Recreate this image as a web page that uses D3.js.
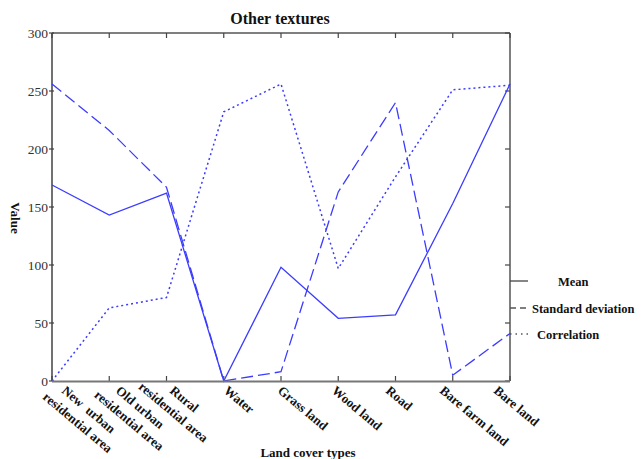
<!DOCTYPE html>
<html><head><meta charset="utf-8">
<script src="https://cdn.jsdelivr.net/npm/d3@7"></script>
<style>
html,body{margin:0;padding:0;background:#fff;}
svg{display:block;}
text{font-family:"Liberation Serif","Times New Roman",serif;}
</style>
</head><body>
<script>
// ---- data ----
const categories = ["New urban residential area","Old urban residential area","Rural residential area","Water","Grass land","Wood land","Road","Bare farm land","Bare land"];
const categoryLines = [["New  urban","residential area"],["Old urban","residential area"],["Rural","residential area"],["Water"],["Grass land"],["Wood land"],["Road"],["Bare farm land"],["Bare land"]];
const meanValues = [169, 143, 162, 0, 98, 54, 57, 153, 256];
const stdValues = [256, 216, 167, 0, 8, 163, 240, 5, 41];
const corrValues = [0, 63, 72, 232, 256, 97, 176, 251, 255];
const yTicks = [0, 50, 100, 150, 200, 250, 300];
const seriesNames = ["Mean", "Standard deviation", "Correlation"];

// ---- layout ----
const W = 642, H = 459;
const L = 52, R = 510, T = 33, B = 381;
const svg = d3.select("body").append("svg").attr("width", W).attr("height", H);

const x = d3.scalePoint().domain(categories).range([L, R]);
const y = d3.scaleLinear().domain([0, 300]).range([B, T]);
const labelX = d3.scalePoint().domain(categories).range([61, 493]);

const blue = "#3c3cff";
const styles = [
  {dash: null, w: 1.3},
  {dash: "12,5", w: 1.3},
  {dash: "2,3", w: 1.5}
];
const allSeries = [meanValues, stdValues, corrValues];

// box axes
svg.append("line").attr("x1", L).attr("x2", R).attr("y1", T).attr("y2", T).attr("stroke", "#555").attr("stroke-width", 1.5);
svg.append("line").attr("x1", R).attr("x2", R).attr("y1", T).attr("y2", B).attr("stroke", "#555").attr("stroke-width", 1.5);
svg.append("line").attr("x1", L).attr("x2", L).attr("y1", T).attr("y2", B).attr("stroke", "#111").attr("stroke-width", 1.2);

// ticks
const tg = svg.append("g").attr("stroke", "#444").attr("stroke-width", 1.2);
categories.forEach(c => {
  tg.append("line").attr("x1", x(c)).attr("x2", x(c)).attr("y1", T).attr("y2", T + 5);
  tg.append("line").attr("x1", x(c)).attr("x2", x(c)).attr("y1", B).attr("y2", B - 5);
});
yTicks.forEach(v => {
  tg.append("line").attr("x1", L - 3).attr("x2", L + 2).attr("y1", y(v)).attr("y2", y(v));
  tg.append("line").attr("x1", R).attr("x2", R - 5).attr("y1", y(v)).attr("y2", y(v));
});

// y tick labels
svg.append("g").selectAll("text").data(yTicks).join("text")
  .attr("x", L - 4).attr("y", d => y(d)).attr("dy", "0.35em")
  .attr("text-anchor", "end").attr("font-size", 13.5).attr("fill", "#333")
  .text(d => d);

// series lines
allSeries.forEach((vals, i) => {
  const line = d3.line().x((d, j) => x(categories[j])).y(d => y(d));
  svg.append("path").datum(vals).attr("d", line)
    .attr("fill", "none").attr("stroke", blue).attr("stroke-width", styles[i].w)
    .attr("stroke-dasharray", styles[i].dash);
});

// bottom axis (drawn over)
svg.append("line").attr("x1", L).attr("x2", R).attr("y1", B + 0.5).attr("y2", B + 0.5).attr("stroke", "#777").attr("stroke-width", 2);

// category labels
const rot = 40;
categories.forEach((c, i) => {
  const g = svg.append("g").attr("transform", `translate(${labelX(c)},392) rotate(${rot})`);
  const lines = categoryLines[i];
  const t1 = g.append("text").attr("x", 0).attr("y", 0).attr("font-size", 13).attr("font-weight", "bold")
    .attr("fill", "#111").style("white-space", "pre").text(lines[0]);
  if (lines.length > 1) {
    const w1 = t1.node().getComputedTextLength();
    g.append("text").attr("x", w1 / 2).attr("y", 17).attr("text-anchor", "middle")
      .attr("font-size", 13).attr("font-weight", "bold").attr("fill", "#111").text(lines[1]);
  }
});

// title & axis titles
svg.append("text").attr("x", 280).attr("y", 24).attr("text-anchor", "middle")
  .attr("font-size", 16).attr("font-weight", "bold").attr("fill", "#111").text("Other textures");
svg.append("text").attr("transform", "translate(11,218) rotate(90)").attr("text-anchor", "middle")
  .attr("font-size", 13).attr("font-weight", "bold").attr("fill", "#111").text("Value");
svg.append("text").attr("x", 308).attr("y", 457).attr("text-anchor", "middle")
  .attr("font-size", 13).attr("font-weight", "bold").attr("fill", "#111").text("Land cover types");

// legend
const legY = [281, 308, 334];
const legTextX = [558, 532, 537];
seriesNames.forEach((n, i) => {
  svg.append("line").attr("x1", R).attr("x2", R + 18).attr("y1", legY[i]).attr("y2", legY[i])
    .attr("stroke", i === 0 ? "#444" : "#555").attr("stroke-width", 1.3)
    .attr("stroke-dasharray", i === 0 ? null : (i === 1 ? "6,4" : "1.5,4"));
  svg.append("text").attr("x", legTextX[i]).attr("y", legY[i]).attr("dy", "0.38em")
    .attr("font-size", 12.5).attr("font-weight", "bold").attr("fill", "#111").text(n);
});
</script>
</body></html>
